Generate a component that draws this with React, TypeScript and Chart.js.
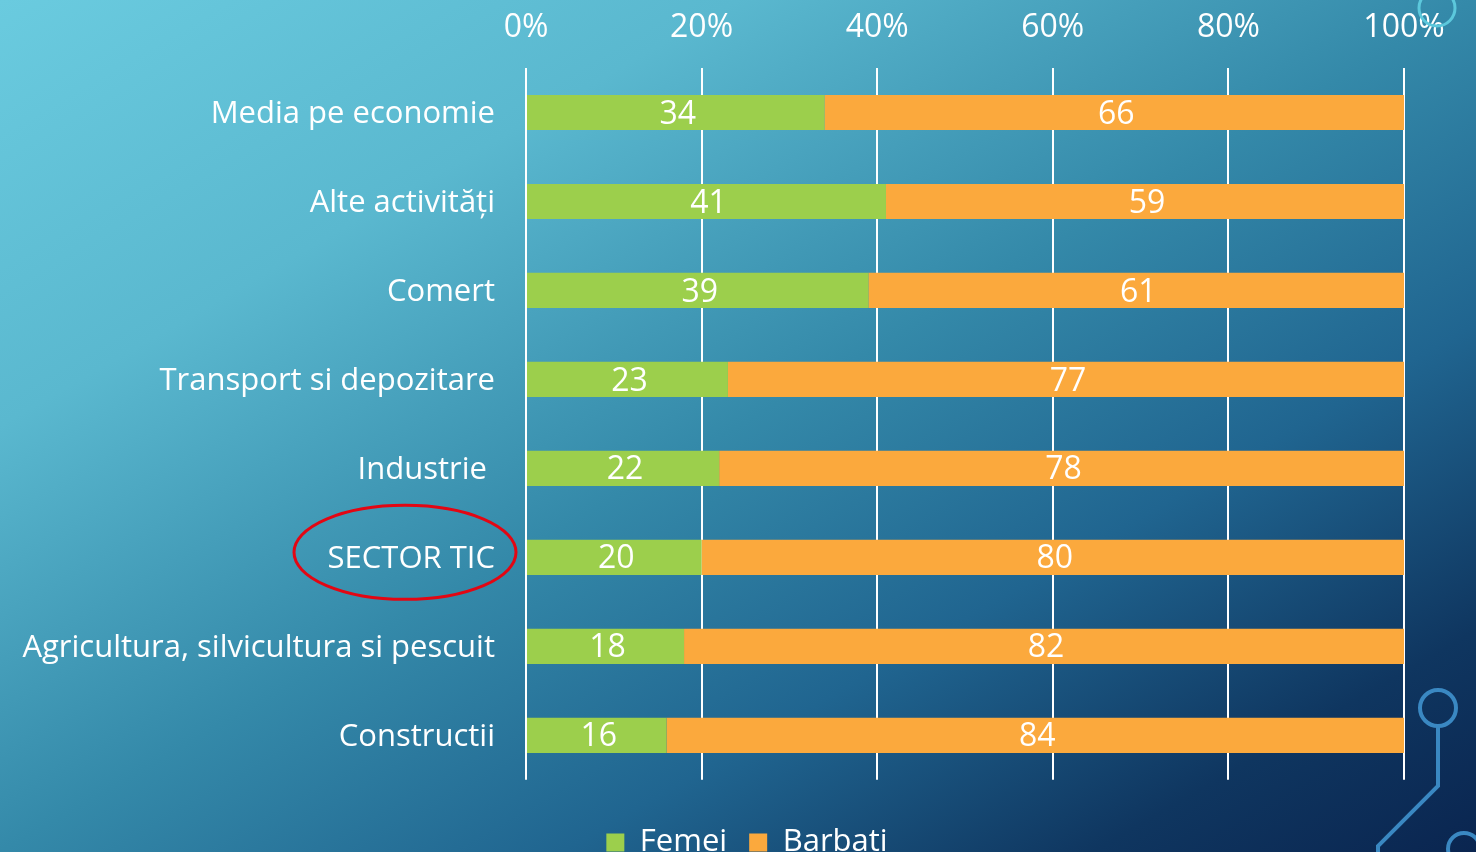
import React, { useEffect, useRef } from "react";
import { Chart, registerables } from "chart.js";

Chart.register(...registerables);

const categories = [
  "Media pe economie",
  "Alte activități",
  "Comert",
  "Transport si depozitare",
  "Industrie ",
  "SECTOR TIC",
  "Agricultura, silvicultura si pescuit",
  "Constructii",
];
const femei = [34, 41, 39, 23, 22, 20, 18, 16];
const barbati = [66, 59, 61, 77, 78, 80, 82, 84];
const seriesNames = ["Femei", "Barbati"];
const seriesColors = ["#9ccf4c", "#fba93d"];
const highlighted = "SECTOR TIC";

const FONT = "'Open Sans', 'Noto Sans', sans-serif";
const W = 1476;
const H = 868;
const PAD_LEFT = 18;

const valueLabels = {
  id: "valueLabels",
  afterDatasetsDraw(chart: any) {
    const ctx = chart.ctx;
    ctx.save();
    ctx.fillStyle = "#ffffff";
    ctx.font = `32px ${FONT}`;
    ctx.textAlign = "center";
    ctx.textBaseline = "middle";
    chart.data.datasets.forEach((ds: any, di: number) => {
      const meta = chart.getDatasetMeta(di);
      meta.data.forEach((bar: any, i: number) => {
        const cx = (bar.x + bar.base) / 2;
        ctx.fillText(String(ds.data[i]), cx + 2, bar.y + 2);
      });
    });
    ctx.restore();
  },
};

const decorations = {
  id: "decorations",
  afterDraw(chart: any) {
    const ctx = chart.ctx;
    const y = chart.scales.y;
    ctx.save();
    const idx = categories.indexOf(highlighted);
    const cy = y.getPixelForValue(idx) - 5;
    ctx.strokeStyle = "#e30613";
    ctx.lineWidth = 3;
    ctx.beginPath();
    ctx.ellipse(405, cy, 111, 47, 0, 0, Math.PI * 2);
    ctx.stroke();

    ctx.strokeStyle = "#3a88c2";
    ctx.lineWidth = 4;
    ctx.beginPath();
    ctx.arc(1438, 708, 18, 0, Math.PI * 2);
    ctx.stroke();
    ctx.beginPath();
    ctx.moveTo(1438, 726);
    ctx.lineTo(1438, 786);
    ctx.lineTo(1378, 846);
    ctx.lineTo(1378, 860);
    ctx.stroke();
    ctx.beginPath();
    ctx.arc(1464, 849, 16, 0, Math.PI * 2);
    ctx.stroke();

    ctx.strokeStyle = "#5cc8dc";
    ctx.lineWidth = 3;
    ctx.beginPath();
    ctx.arc(1437, 8, 18, 0, Math.PI * 2);
    ctx.stroke();
    ctx.restore();
  },
};

export default function App() {
  const ref = useRef<HTMLCanvasElement>(null);

  useEffect(() => {
    document.body.style.margin = "0";
    const chart = new Chart(ref.current!, {
      type: "bar",
      data: {
        labels: categories,
        datasets: [
          { label: seriesNames[0], data: femei, backgroundColor: seriesColors[0] },
          { label: seriesNames[1], data: barbati, backgroundColor: seriesColors[1] },
        ],
      },
      options: {
        indexAxis: "y",
        animation: false,
        responsive: false,
        maintainAspectRatio: false,
        layout: { padding: { left: PAD_LEFT, right: 0, top: 0, bottom: 0 } },
        datasets: { bar: { barPercentage: 0.395, categoryPercentage: 1 } },
        scales: {
          x: {
            position: "top",
            stacked: true,
            min: 0,
            max: 100,
            ticks: {
              stepSize: 20,
              color: "#ffffff",
              font: { family: FONT, size: 32 },
              padding: 21,
              callback: (v: any) => v + "%",
            },
            grid: { color: "#ffffff", lineWidth: 2, drawTicks: false },
            border: { display: false },
            afterFit: (s: any) => {
              s.height = 68;
            },
          },
          y: {
            stacked: true,
            ticks: {
              color: "#ffffff",
              font: { family: FONT, size: 31 },
              padding: 23,
              labelOffset: 2,
            },
            grid: { display: false },
            border: { display: false },
            afterFit: (s: any) => {
              s.width = 526 - PAD_LEFT;
            },
          },
          yRight: {
            type: "category",
            position: "right",
            ticks: { display: false },
            grid: { display: false },
            border: { display: false },
            afterFit: (s: any) => {
              s.width = 72;
            },
          },
        },
        plugins: {
          legend: {
            position: "bottom",
            title: {
              display: true,
              text: " ",
              font: { size: 1 },
              padding: { top: 12, bottom: 12 },
            },
            labels: {
              color: "#ffffff",
              font: { family: FONT, size: 31 },
              boxWidth: 18,
              boxHeight: 18,
              padding: 22,
            },
          },
          tooltip: { enabled: false },
        },
      },
      plugins: [valueLabels, decorations],
    });
    return () => chart.destroy();
  }, []);

  return (
    <div
      style={{
        position: "absolute",
        left: 0,
        top: 0,
        width: W,
        height: 852,
        overflow: "hidden",
        background:
          "linear-gradient(to bottom right, #6acbdf 0%, #5ab8cf 25%, #3489a9 50%, #206590 69%, #0f3660 87%, #0a2550 100%)",
      }}
    >
      <canvas ref={ref} width={W} height={H} style={{ display: "block" }} />
    </div>
  );
}
